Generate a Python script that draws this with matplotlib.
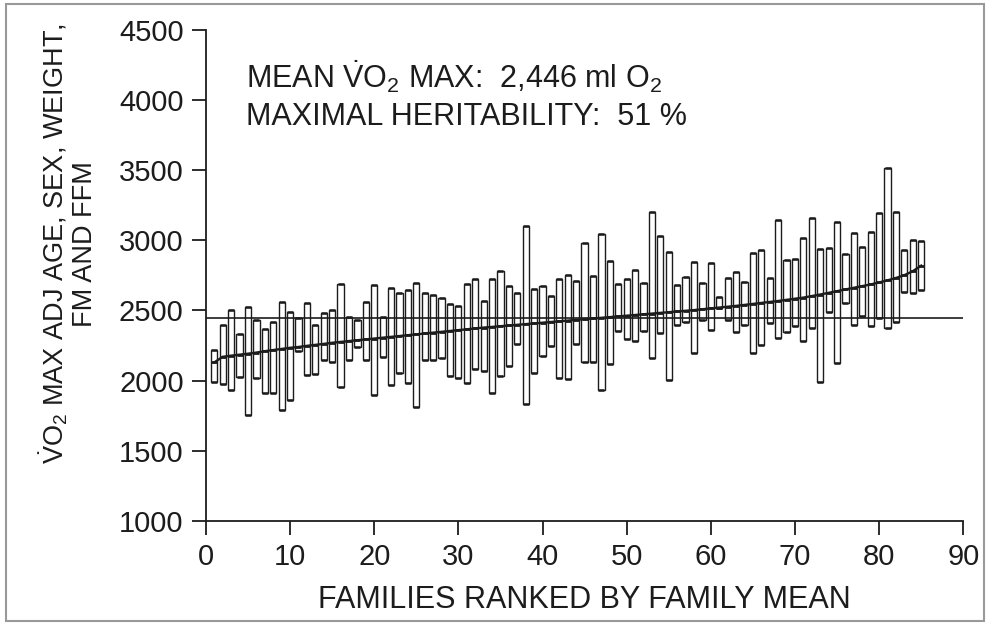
import matplotlib
matplotlib.use("Agg")
import matplotlib.pyplot as plt
from matplotlib.patches import Rectangle

plt.rcParams['font.family'] = ['Liberation Sans', 'DejaVu Sans']
plt.rcParams['mathtext.fontset'] = 'custom'
plt.rcParams['mathtext.rm'] = 'Liberation Sans'
plt.rcParams['mathtext.it'] = 'Liberation Sans'

families = list(range(1, 86))
fam_max = [2215, 2397, 2504, 2335, 2525, 2433, 2365, 2415, 2560, 2490,
           2450, 2555, 2400, 2480, 2504, 2690, 2456, 2433, 2563, 2680,
           2456, 2658, 2623, 2647, 2694, 2623, 2611, 2587, 2545, 2533,
           2687, 2723, 2568, 2723, 2782, 2675, 2627, 3100, 2651, 2675,
           2600, 2723, 2750, 2711, 2984, 2747, 3044, 2854, 2687, 2723,
           2789, 2694, 3205, 3032, 2920, 2682, 2742, 2849, 2694, 2837,
           2599, 2730, 2777, 2700, 2908, 2932, 2730, 3145, 2860, 2866,
           3015, 3157, 2940, 2944, 3134, 2900, 3051, 2950, 3062, 3193,
           3514, 3205, 2932, 3003, 2995]
fam_min = [1990, 1975, 1934, 2029, 1756, 2017, 1915, 1910, 1790, 1865,
           2210, 2040, 2050, 2148, 2136, 1955, 2148, 2243, 2148, 1900,
           2171, 1969, 2053, 1981, 1815, 2146, 2146, 2160, 2034, 2022,
           1986, 2081, 2069, 1915, 2034, 2105, 2259, 1830, 2057, 2176,
           2250, 2022, 2015, 2260, 2136, 2136, 1934, 2117, 2355, 2295,
           2283, 2355, 2160, 2338, 2005, 2397, 2421, 2195, 2433, 2361,
           2516, 2433, 2350, 2400, 2195, 2255, 2409, 2302, 2350, 2390,
           2285, 2373, 1993, 2490, 2124, 2552, 2400, 2460, 2390, 2445,
           2373, 2421, 2635, 2623, 2647]
fam_mean = [2130, 2170, 2178, 2185, 2192, 2200, 2210, 2218, 2226, 2234,
            2240, 2248, 2255, 2262, 2270, 2276, 2282, 2288, 2294, 2300,
            2306, 2312, 2318, 2324, 2330, 2336, 2342, 2348, 2354, 2360,
            2366, 2372, 2378, 2383, 2388, 2393, 2398, 2403, 2408, 2413,
            2418, 2423, 2428, 2433, 2438, 2443, 2448, 2453, 2458, 2463,
            2468, 2473, 2478, 2483, 2488, 2493, 2498, 2503, 2509, 2515,
            2521, 2527, 2533, 2540, 2547, 2554, 2561, 2568, 2576, 2584,
            2592, 2603, 2614, 2626, 2638, 2650, 2662, 2674, 2686, 2700,
            2715, 2732, 2752, 2780, 2820]
grand_mean = 2446

xticks = [0, 10, 20, 30, 40, 50, 60, 70, 80, 90]
yticks = [1000, 1500, 2000, 2500, 3000, 3500, 4000, 4500]

ink = '#1c1c1c'

fig = plt.figure(figsize=(9.9, 6.26), dpi=100)
ax = fig.add_axes([0.208, 0.168, 0.765, 0.784])

heights = [hi - lo for hi, lo in zip(fam_max, fam_min)]
ax.bar(families, heights, bottom=fam_min, width=0.74, fill=False,
       edgecolor=ink, linewidth=1.0, zorder=2)
ax.scatter(families, fam_max, marker='_', s=14, color=ink, linewidths=1.8, zorder=3)
ax.scatter(families, fam_min, marker='_', s=14, color=ink, linewidths=1.8, zorder=3)
ax.scatter(families, fam_mean, marker='_', s=14, color=ink, linewidths=2.0, zorder=3)
ax.plot(families, fam_mean, color=ink, linewidth=1.7, zorder=4)
ax.plot([0, 90], [grand_mean, grand_mean], color=ink, linewidth=1.2, zorder=4)

ax.set_xlim(0, 90)
ax.set_ylim(1000, 4500)
ax.set_xticks(xticks)
ax.set_yticks(yticks)
for s in ['top', 'right']:
    ax.spines[s].set_visible(False)
for s in ['left', 'bottom']:
    ax.spines[s].set_linewidth(1.3)
    ax.spines[s].set_color(ink)
ax.tick_params(axis='both', direction='out', length=10, width=1.3, colors=ink,
               labelsize=21, pad=6)

ax.set_xlabel('FAMILIES RANKED BY FAMILY MEAN', fontsize=22, labelpad=10, color=ink)

fig.text(0.068, 0.61,
         r'$\dot{\mathrm{V}}\mathrm{O}_2$ MAX ADJ AGE, SEX, WEIGHT,' + '\nFM AND FFM',
         rotation=90, ha='center', va='center', multialignment='center',
         fontsize=19.5, color=ink, linespacing=1.1)

fig.text(0.248, 0.877, r'MEAN $\dot{\mathrm{V}}\mathrm{O}_2$ MAX:  2,446 ml O$_2$',
         fontsize=22, ha='left', va='center', color=ink)
fig.text(0.248, 0.813, 'MAXIMAL HERITABILITY:  51 %',
         fontsize=22, ha='left', va='center', color=ink)

fig.patches.append(Rectangle((0.006, 0.008), 0.988, 0.985, transform=fig.transFigure,
                             fill=False, edgecolor='#999999', linewidth=1.5))

fig.savefig('out.png', dpi=100)
